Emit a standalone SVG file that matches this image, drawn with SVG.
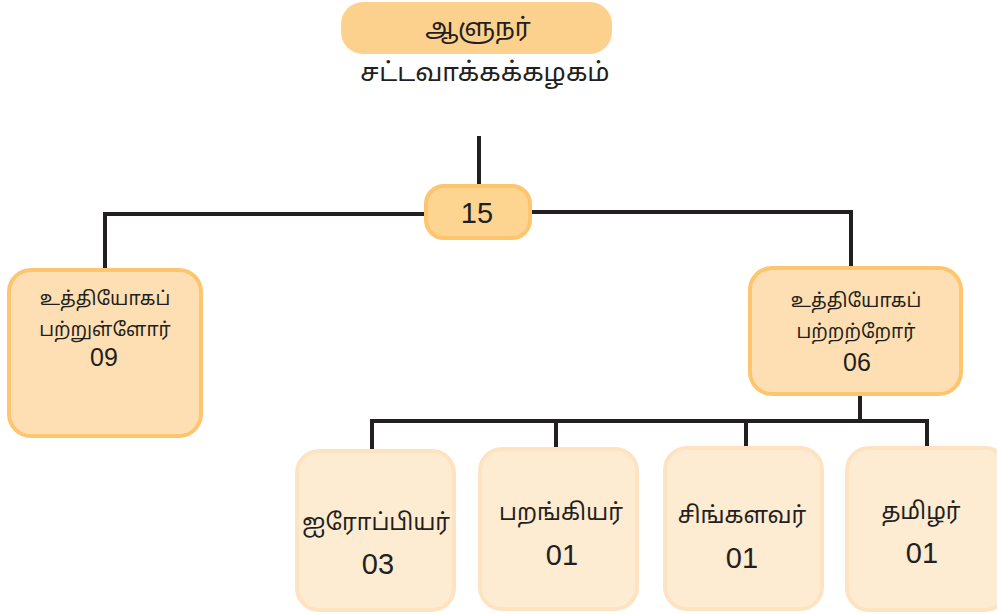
<svg xmlns="http://www.w3.org/2000/svg" width="997" height="615" viewBox="0 0 997 615">
<style>
text{font-family:"Noto Sans Tamil","Noto Sans","Liberation Sans",sans-serif;fill:#231f20;text-anchor:middle}
.mid{fill:#fddfb3;stroke:#fec56f;stroke-width:4}
.low{fill:#fdebd2;stroke:#fde3c2;stroke-width:4}
.num{font-family:"Liberation Sans","DejaVu Sans",sans-serif}
.ln{fill:none;stroke:#231f20;stroke-width:4}
</style>
<rect width="997" height="615" fill="#fff"/>
<g id="connectors">
<path class="ln" d="M479 136V186"/>
<path class="ln" d="M424 214H105V269"/>
<path class="ln" d="M531 212H851V267"/>
<path class="ln" d="M860 394V421M372 450V421H927V450M556 421V450M746 421V450"/>
</g>
<g id="governor">
<rect x="341" y="2" width="271" height="52" rx="22" fill="#fcd18e"/>
<text x="478" y="36" font-size="25">ஆளுநர்</text>
<text x="485" y="81" font-size="26">சட்டவாக்கக்கழகம்</text>
</g>
<g id="total">
<rect x="426" y="186" width="104" height="52" rx="18" fill="#fdd490" stroke="#fec56f" stroke-width="4"/>
<text class="num" x="477" y="223" font-size="29">15</text>
</g>
<g id="unofficial">
<rect class="mid" x="9" y="270" width="192" height="166" rx="22"/>
<text x="105" y="305" font-size="19">உத்தியோகப்</text>
<text x="105" y="336" font-size="19">பற்றுள்ளோர்</text>
<text class="num" x="104" y="366" font-size="25">09</text>
</g>
<g id="official">
<rect class="mid" x="750" y="268" width="211" height="126" rx="22"/>
<text x="856" y="307" font-size="19">உத்தியோகப்</text>
<text x="856" y="338" font-size="19">பற்றற்றோர்</text>
<text class="num" x="857" y="371" font-size="25">06</text>
</g>
<g id="europeans">
<rect class="low" x="297" y="451" width="157" height="159" rx="22"/>
<text x="376" y="530" font-size="23">ஐரோப்பியர்</text>
<text class="num" x="378" y="574" font-size="29">03</text>
</g>
<g id="burghers">
<rect class="low" x="480" y="449" width="157" height="160" rx="22"/>
<text x="561" y="520" font-size="23">பறங்கியர்</text>
<text class="num" x="562" y="565" font-size="29">01</text>
</g>
<g id="sinhalese">
<rect class="low" x="665" y="448" width="157" height="161" rx="22"/>
<text x="742" y="523" font-size="23">சிங்களவர்</text>
<text class="num" x="742" y="568" font-size="29">01</text>
</g>
<g id="tamils">
<rect class="low" x="847" y="448" width="160" height="162" rx="22"/>
<text x="921" y="519" font-size="23">தமிழர்</text>
<text class="num" x="922" y="563" font-size="29">01</text>
</g>
</svg>
